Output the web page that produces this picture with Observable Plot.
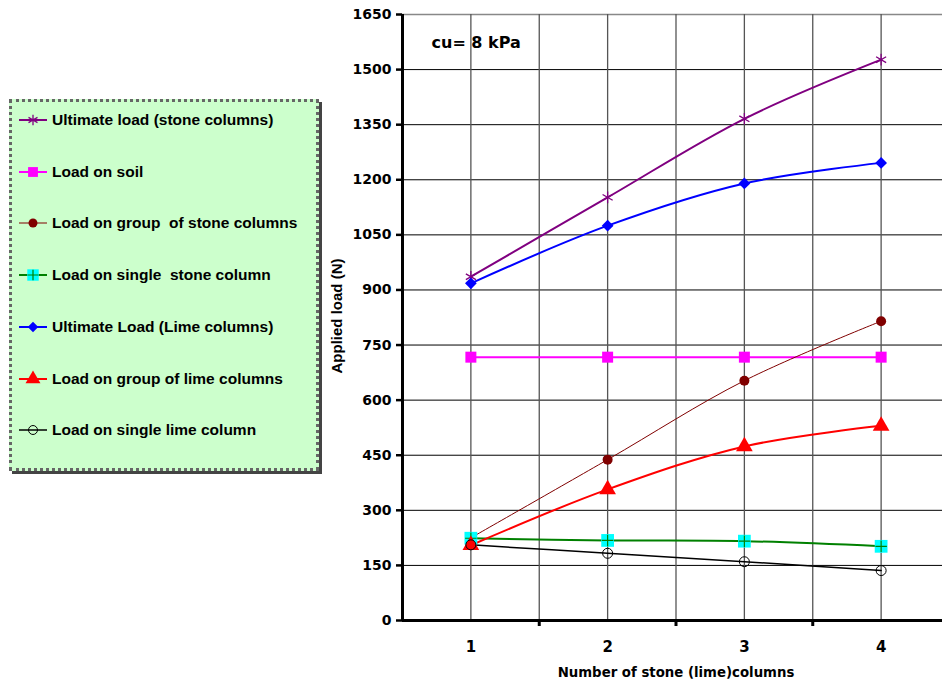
<!DOCTYPE html>
<html>
<head>
<meta charset="utf-8">
<script src="https://cdn.jsdelivr.net/npm/d3@7"></script>
<script src="https://cdn.jsdelivr.net/npm/@observablehq/plot@0.6"></script>
<style>
  body { margin: 0; background: #fff; font-family: "Liberation Sans", Arial, sans-serif; }
  #wrap { position: relative; width: 942px; height: 687px; overflow: hidden; }
  #legend { position: absolute; left: 9px; top: 99px; width: 304px; height: 366px;
            background: #CCFFCC; border: 3px dotted #666; box-shadow: 3px 3px 0 #444; }
  .item { position: absolute; left: 6px; height: 20px; display: flex; align-items: center; }
  .item span { font-weight: bold; font-size: 15.5px; color: #000; margin-left: 4px; white-space: pre; }
  #ylabel { position: absolute; left: 336px; top: 316px; transform: translate(-50%, -50%) rotate(-90deg);
            font-weight: bold; font-size: 15px; white-space: nowrap; color: #000; }
</style>
</head>
<body>
<div id="wrap"><div id="legend"></div><div id="ylabel"></div></div>
<script>
const categories = [1, 2, 3, 4];
const seriesNames = [
  "Ultimate load (stone columns)",
  "Load on soil",
  "Load on group  of stone columns",
  "Load on single  stone column",
  "Ultimate Load (Lime columns)",
  "Load on group of lime columns",
  "Load on single lime column"
];
const ultimateStone = [936, 1152, 1366, 1527];
const loadSoil      = [717, 717, 717, 717];
const groupStone    = [225, 438, 653, 815];
const singleStone   = [224, 218, 216, 202];
const ultimateLime  = [918, 1075, 1190, 1246];
const groupLime     = [205, 357, 474, 530];
const singleLime    = [206, 183, 160, 136];
const yTicks = [0, 150, 300, 450, 600, 750, 900, 1050, 1200, 1350, 1500, 1650];
const xBoundaries = [1.5, 2.5, 3.5];
const annotation = "cu= 8 kPa";
const xLabel = "Number of stone (lime)columns";
const yLabel = "Applied load (N)";

const seriesValues = [ultimateStone, loadSoil, groupStone, singleStone, ultimateLime, groupLime, singleLime];
const styles = [
  {stroke: "#800080", width: 2, marks: [{symbol: "asterisk", stroke: "#800080", fill: "none", r: 5.5, sw: 1.3}]},
  {stroke: "#FF00FF", width: 2, marks: [{symbol: "square", fill: "#FF00FF", r: 6.2}]},
  {stroke: "#800000", width: 1, marks: [{symbol: "circle", fill: "#800000", r: 5}]},
  {stroke: "#008000", width: 2, marks: [{symbol: "square", fill: "#00FFFF", r: 7.2}, {symbol: "plus", stroke: "#008000", fill: "none", r: 3.8, sw: 1.2}]},
  {stroke: "#0000FF", width: 2, marks: [{symbol: "diamond2", fill: "#0000FF", r: 5.3}]},
  {stroke: "#FF0000", width: 2, marks: [{symbol: "triangle", fill: "#FF0000", r: 6.2}]},
  {stroke: "#000000", width: 1.5, marks: [{symbol: "circle", fill: "none", stroke: "#000", r: 5, sw: 1}]}
];

const rows = seriesNames.map((name, i) => categories.map((c, j) => ({series: name, x: c, y: seriesValues[i][j]})));

const marks = [
  Plot.ruleY(yTicks.filter(d => d > 0 && d < 1650), {stroke: "#000", strokeWidth: 1}),
  Plot.ruleY([1650], {stroke: "#888", strokeWidth: 1.5}),
  Plot.ruleX(categories.concat(xBoundaries), {stroke: "#555", strokeWidth: 1.3})
];
rows.forEach((data, i) => {
  const s = styles[i];
  marks.push(Plot.line(data, {x: "x", y: "y", stroke: s.stroke, strokeWidth: s.width, curve: "catmull-rom"}));
});
rows.forEach((data, i) => {
  styles[i].marks.forEach(m => {
    marks.push(Plot.dot(data, {x: "x", y: "y", symbol: m.symbol, fill: m.fill, stroke: m.stroke || "none", strokeWidth: m.sw || 1, r: m.r}));
  });
});
const dv = "'DejaVu Sans', sans-serif";
marks.push(
  Plot.ruleX([0.5], {stroke: "#000", strokeWidth: 3}),
  Plot.ruleY([0], {stroke: "#000", strokeWidth: 3}),
  Plot.axisY({ticks: yTicks, tickSize: 6, tickPadding: 5, strokeWidth: 2.5, fontFamily: dv, fontWeight: "bold", fontSize: 14, label: null, tickFormat: d => String(d)}),
  Plot.axisX({ticks: xBoundaries, tickSize: 6, strokeWidth: 3, tickFormat: () => "", label: null}),
  Plot.axisX({ticks: categories, tickSize: 0, tickPadding: 21, fontFamily: dv, fontWeight: "bold", fontSize: 15, label: null, tickFormat: d => String(d)}),
  Plot.text([xLabel], {frameAnchor: "bottom", dy: 56, textAnchor: "middle", fontFamily: dv, fontWeight: "bold", fontSize: 13.3, text: d => d}),
  Plot.text([annotation], {frameAnchor: "top-left", dx: 29, dy: 28, lineAnchor: "middle", textAnchor: "start", fontFamily: dv, fontWeight: "bold", fontSize: 16, text: d => d})
);

const chart = Plot.plot({
  width: 942, height: 687,
  marginLeft: 402, marginRight: -7, marginTop: 14, marginBottom: 67,
  x: {domain: [0.5, 4.5], axis: null},
  y: {domain: [0, 1650], axis: null},
  style: {fontFamily: "'Liberation Sans', Arial, sans-serif", color: "#000", background: "transparent", overflow: "visible"},
  marks
});
document.getElementById("wrap").prepend(chart);
document.getElementById("ylabel").textContent = yLabel;

// legend
const legend = d3.select("#legend");
seriesNames.forEach((name, i) => {
  const s = styles[i];
  const item = legend.append("div").attr("class", "item").style("top", (8 + i * 51.7) + "px");
  const svg = item.append("svg").attr("width", 30).attr("height", 20);
  svg.append("line").attr("x1", 1).attr("x2", 29).attr("y1", 10).attr("y2", 10)
    .attr("stroke", s.stroke).attr("stroke-width", s.width);
  const symMap = {asterisk: d3.symbolAsterisk, square: d3.symbolSquare, circle: d3.symbolCircle, plus: d3.symbolPlus, diamond2: d3.symbolDiamond2, triangle: d3.symbolTriangle};
  s.marks.forEach(m => {
    svg.append("path").attr("transform", "translate(15,10)")
      .attr("d", d3.symbol(symMap[m.symbol], Math.PI * m.r * m.r * 0.8)())
      .attr("fill", m.fill).attr("stroke", m.stroke || "none").attr("stroke-width", m.sw || 1);
  });
  item.append("span").text(name);
});
</script>
</body>
</html>
